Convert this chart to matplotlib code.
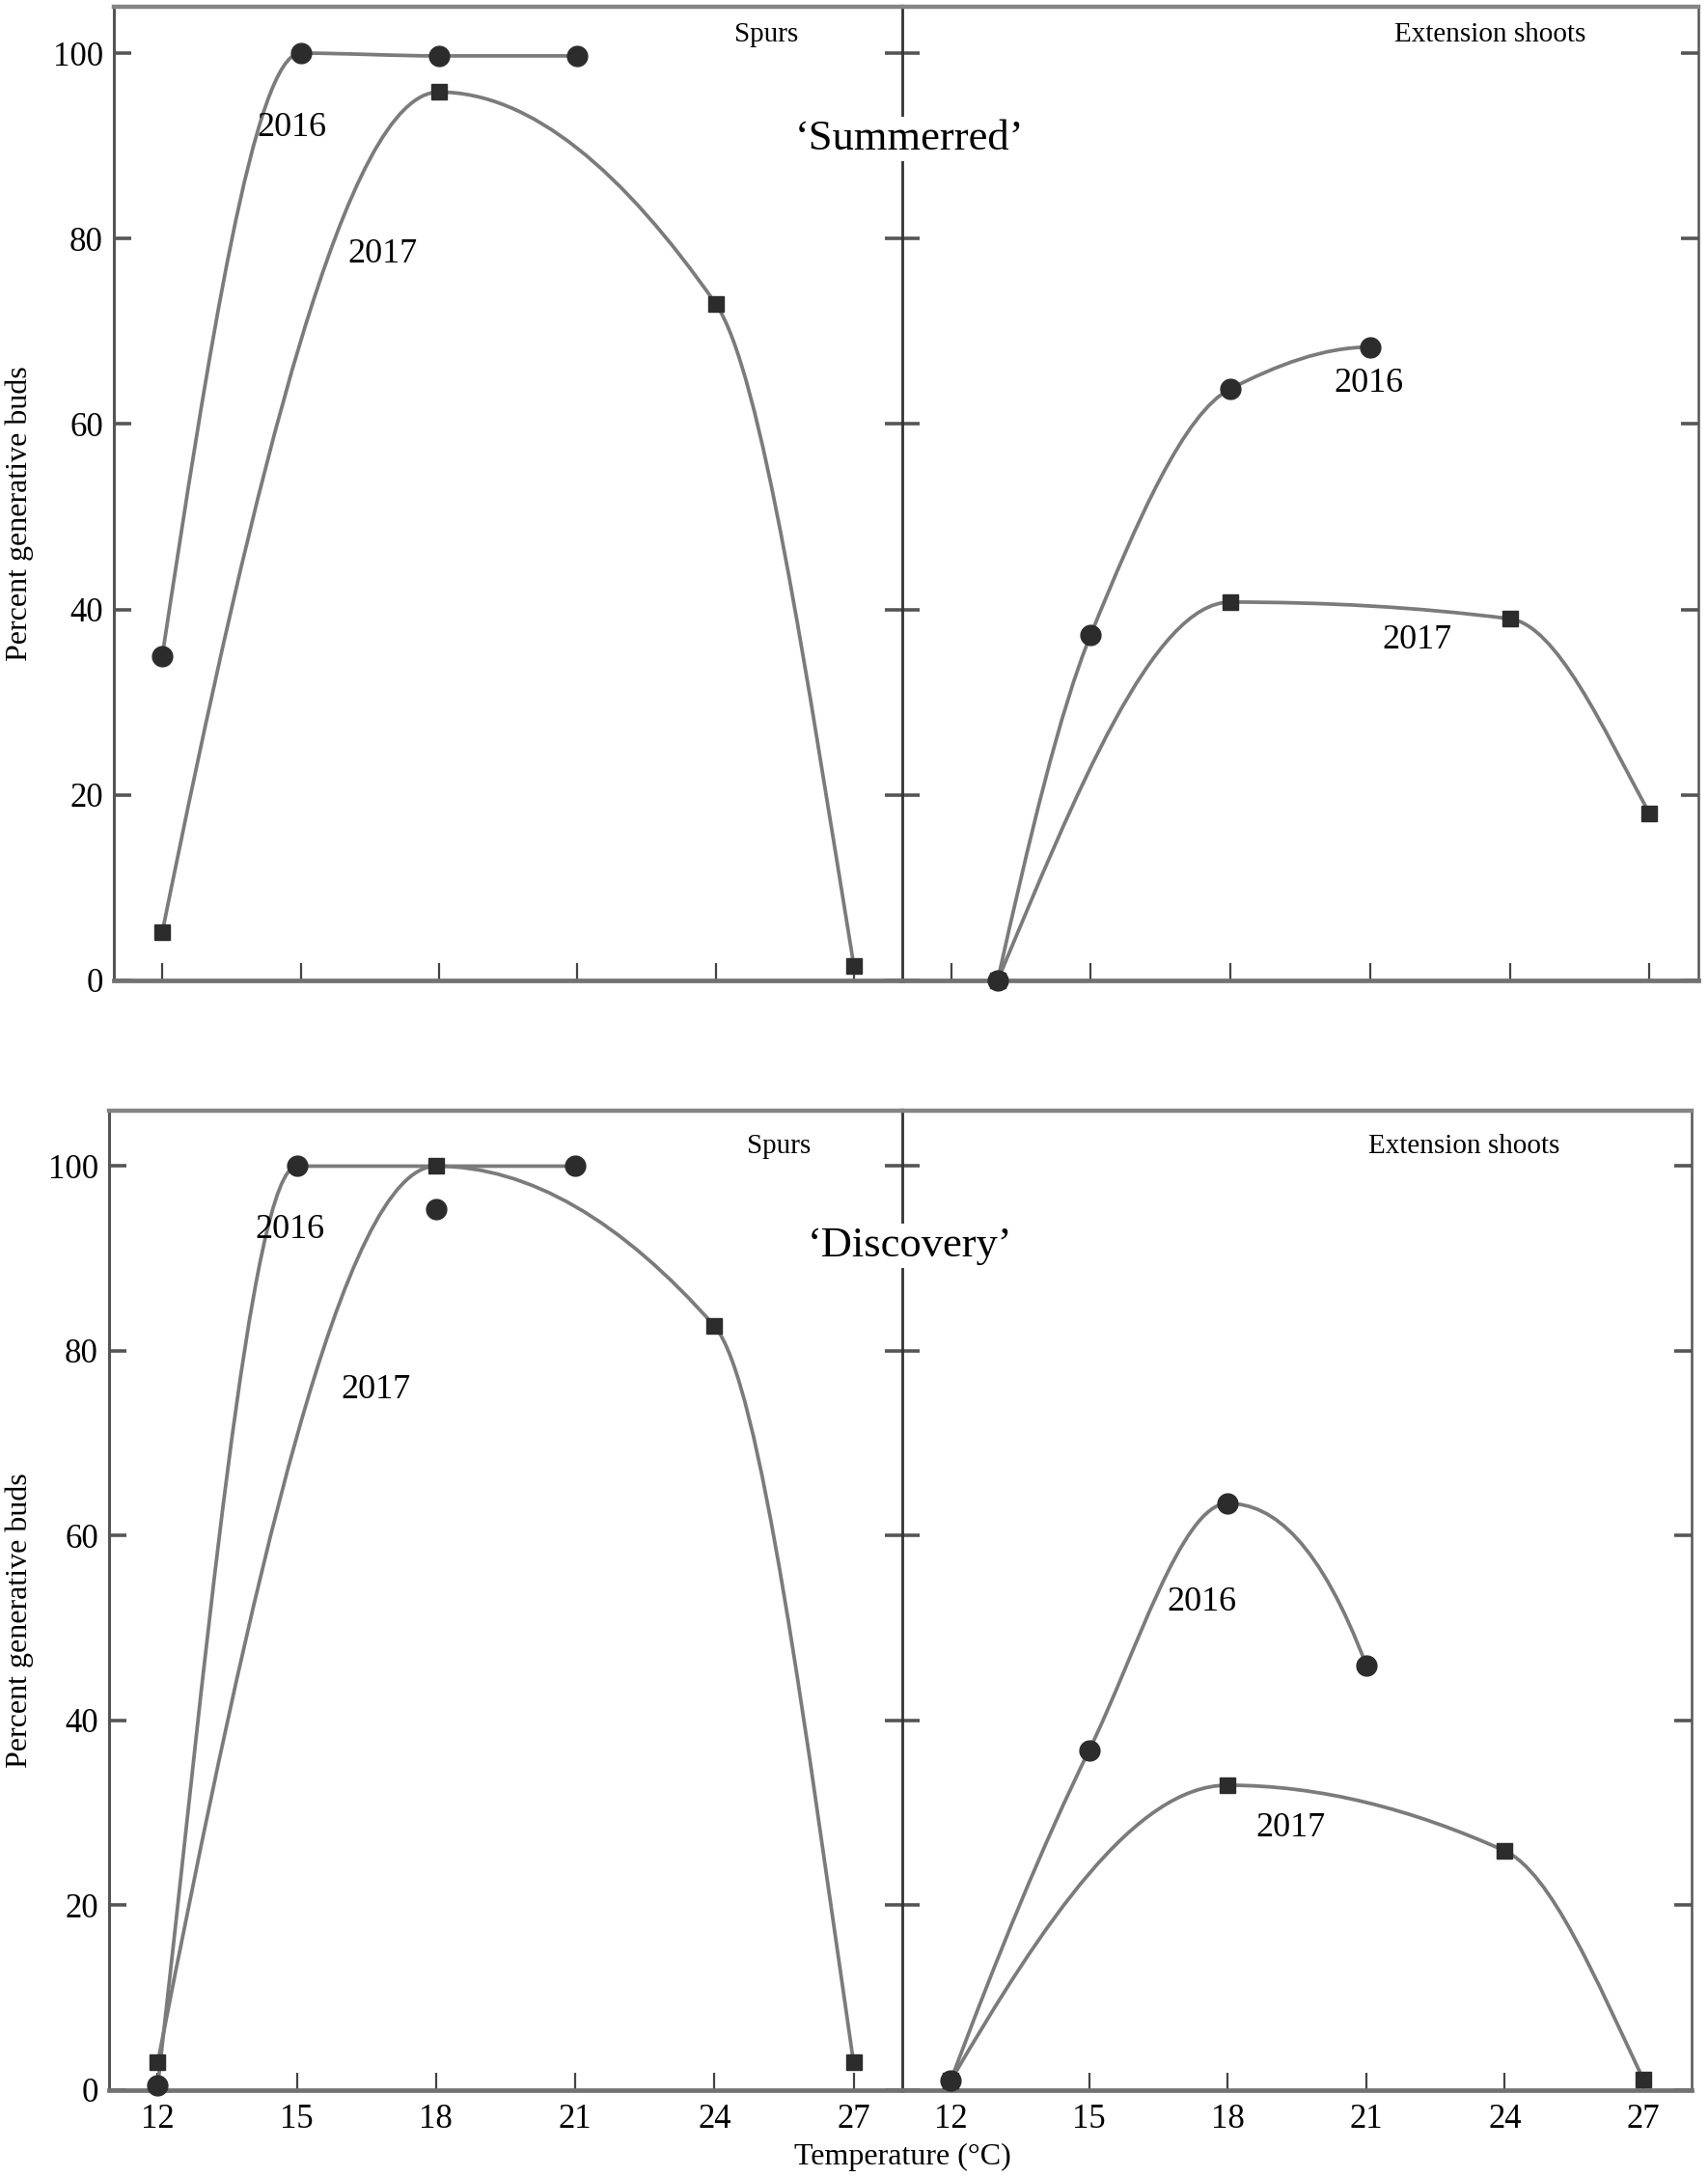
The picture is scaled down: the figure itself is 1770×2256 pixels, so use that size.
"""
Percent generative buds vs. temperature, 'Summerred' and 'Discovery',
spurs and extension shoots, 2016 and 2017 -- hand-drawn style curves.
"""

import numpy as np
import matplotlib.pyplot as plt
from matplotlib.path import Path
from matplotlib.patches import PathPatch

plt.rcParams['font.family'] = ['Liberation Serif', 'DejaVu Serif']

# ── data ─────────────────────────────────────────────────────────────────────
TEMPS = [12, 15, 18, 21, 24, 27]
Y_TICKS = [0, 20, 40, 60, 80, 100]

# 'Summerred'
SUM_SPUR_X16 = [12, 15, 18, 21]
SUM_SPUR_Y16 = [35, 100, 99.7, 99.7]
SUM_SPUR_X17 = [12, 18, 24, 27]
SUM_SPUR_Y17 = [5.2, 95.8, 73, 1.6]
SUM_EXT_X16 = [13, 15, 18, 21]
SUM_EXT_Y16 = [0, 37.3, 63.8, 68.3]
SUM_EXT_X17 = [13, 18, 24, 27]
SUM_EXT_Y17 = [0, 40.8, 39, 18]

# 'Discovery'
DIS_SPUR_X16 = [12, 15, 18, 21]
DIS_SPUR_Y16 = [0.5, 100, 95.4, 100]
DIS_SPUR_ON16 = [True, True, False, True]   # 18 °C point lies off the drawn curve
DIS_SPUR_X17 = [12, 18, 24, 27]
DIS_SPUR_Y17 = [3, 100, 82.7, 3]
DIS_EXT_X16 = [12, 15, 18, 21]
DIS_EXT_Y16 = [1, 36.8, 63.5, 46]
DIS_EXT_X17 = [12, 18, 24, 27]
DIS_EXT_Y17 = [1, 33, 25.9, 1.2]

LINE_C = '#7b7b7b'
MARK_C = '#2c2c2c'


# ── monotone cubic (PCHIP-like) curve rendered as Bezier path ────────────────
def slopes(x, y):
    x = np.asarray(x, float)
    y = np.asarray(y, float)
    h = np.diff(x)
    d = np.diff(y) / h
    n = len(x)
    m = np.zeros(n)
    if n == 2:
        m[:] = d[0]
        return m
    for k in range(1, n - 1):
        if d[k - 1] * d[k] > 0:
            w1 = 2 * h[k] + h[k - 1]
            w2 = h[k] + 2 * h[k - 1]
            m[k] = (w1 + w2) / (w1 / d[k - 1] + w2 / d[k])

    def end(h0, h1, d0, d1):
        s = ((2 * h0 + h1) * d0 - h0 * d1) / (h0 + h1)
        if np.sign(s) != np.sign(d0):
            s = 0.0
        elif np.sign(d0) != np.sign(d1) and abs(s) > abs(3 * d0):
            s = 3 * d0
        return s

    m[0] = end(h[0], h[1], d[0], d[1])
    m[-1] = end(h[-1], h[-2], d[-1], d[-2])
    return m


def curve(ax, x, y):
    x = list(map(float, x))
    y = list(map(float, y))
    m = slopes(x, y)
    verts = [(x[0], y[0])]
    codes = [Path.MOVETO]
    for k in range(len(x) - 1):
        h = x[k + 1] - x[k]
        verts += [(x[k] + h / 3, y[k] + m[k] * h / 3),
                  (x[k + 1] - h / 3, y[k + 1] - m[k + 1] * h / 3),
                  (x[k + 1], y[k + 1])]
        codes += [Path.CURVE4] * 3
    ax.add_patch(PathPatch(Path(verts, codes), facecolor='none',
                           edgecolor=LINE_C, lw=2.7, zorder=2,
                           capstyle='round'))


def marks(ax, x, y, kind):
    if kind == 'o':
        ax.plot(x, y, 'o', ms=15, color=MARK_C, clip_on=False, zorder=3)
    else:
        ax.plot(x, y, 's', ms=12, color=MARK_C, clip_on=False, zorder=3)


# ── figure ───────────────────────────────────────────────────────────────────
W, H = 1770, 2256
fig = plt.figure(figsize=(W / 100, H / 100), dpi=100)
fig.patch.set_facecolor('white')


def px_axes(left, top, right, bottom):
    return fig.add_axes([left / W, 1 - bottom / H, (right - left) / W,
                         (bottom - top) / H])


def style(ax, side, ytop, bottom_labels):
    ax.set_xlim(10.95, 28.05)
    ax.set_ylim(0, ytop)
    ax.set_xticks(TEMPS)
    ax.set_yticks(Y_TICKS)
    ax.spines['top'].set_linewidth(3.2)
    ax.spines['top'].set_color('#858585')
    ax.spines['bottom'].set_linewidth(3.4)
    ax.spines['bottom'].set_color('#727272')
    ax.tick_params(axis='x', direction='in', length=13, width=1.6,
                   color='#444444', labelsize=25, pad=10,
                   labelbottom=bottom_labels)
    if side == 'left':
        ax.spines['left'].set_linewidth(2.2)
        ax.spines['left'].set_color('#555555')
        ax.spines['right'].set_visible(False)
        ax.tick_params(axis='y', direction='in', length=13, width=2.6,
                       color='#555555', labelsize=25, pad=8,
                       left=True, right=True)
    else:
        ax.spines['left'].set_linewidth(2.0)
        ax.spines['left'].set_color('#333333')
        ax.spines['right'].set_linewidth(1.8)
        ax.spines['right'].set_color('#555555')
        ax.tick_params(axis='y', direction='in', length=13, width=2.6,
                       color='#555555', left=True, right=True,
                       labelleft=False)
    ax.set_facecolor('white')


def year(ax, x, y, s):
    ax.text(x, y, s, fontsize=26, ha='center', va='center', zorder=4)


# top row: 'Summerred'
a1 = px_axes(118, 7, 935, 1016)
a2 = px_axes(935, 7, 1760, 1016)
style(a1, 'left', 105, False)
style(a2, 'right', 105, False)

curve(a1, SUM_SPUR_X16, SUM_SPUR_Y16)
curve(a1, SUM_SPUR_X17, SUM_SPUR_Y17)
marks(a1, SUM_SPUR_X16, SUM_SPUR_Y16, 'o')
marks(a1, SUM_SPUR_X17, SUM_SPUR_Y17, 's')
year(a1, 14.82, 91.9, '2016')
year(a1, 16.77, 78.3, '2017')
a1.text(25.1, 102, 'Spurs', fontsize=21, ha='center', va='center')

curve(a2, SUM_EXT_X16, SUM_EXT_Y16)
curve(a2, SUM_EXT_X17, SUM_EXT_Y17)
marks(a2, SUM_EXT_X16, SUM_EXT_Y16, 'o')
marks(a2, SUM_EXT_X17, SUM_EXT_Y17, 's')
year(a2, 20.96, 64.4, '2016')
year(a2, 22.0, 36.7, '2017')
a2.text(23.57, 102, 'Extension shoots', fontsize=21, ha='center', va='center')

a1.set_ylabel('Percent generative buds', fontsize=23)
a1.yaxis.set_label_coords(-0.102, 0.48)

# bottom row: 'Discovery'
b1 = px_axes(113, 1151, 935, 2166)
b2 = px_axes(935, 1151, 1753, 2166)
style(b1, 'left', 106, True)
style(b2, 'right', 106, True)

on16 = np.array(DIS_SPUR_ON16)
curve(b1, np.array(DIS_SPUR_X16)[on16], np.array(DIS_SPUR_Y16)[on16])
curve(b1, DIS_SPUR_X17, DIS_SPUR_Y17)
marks(b1, DIS_SPUR_X16, DIS_SPUR_Y16, 'o')
marks(b1, DIS_SPUR_X17, DIS_SPUR_Y17, 's')
year(b1, 14.85, 93.1, '2016')
year(b1, 16.71, 75.8, '2017')
b1.text(25.4, 102.1, 'Spurs', fontsize=21, ha='center', va='center')

curve(b2, DIS_EXT_X16, DIS_EXT_Y16)
curve(b2, DIS_EXT_X17, DIS_EXT_Y17)
marks(b2, DIS_EXT_X16, DIS_EXT_Y16, 'o')
marks(b2, DIS_EXT_X17, DIS_EXT_Y17, 's')
year(b2, 17.45, 52.8, '2016')
year(b2, 19.37, 28.4, '2017')
b2.text(23.12, 102.1, 'Extension shoots', fontsize=21, ha='center', va='center')

b1.set_ylabel('Percent generative buds', fontsize=23)
b1.yaxis.set_label_coords(-0.095, 0.48)

# cultivar names (they break the divider line) and shared x label
name_box = dict(facecolor='white', edgecolor='none', pad=2)
fig.text(943 / W, 1 - 144 / H, '\u2018Summerred\u2019', fontsize=32,
         ha='center', va='center', bbox=name_box, zorder=10)
fig.text(943 / W, 1 - 1291 / H, '\u2018Discovery\u2019', fontsize=32,
         ha='center', va='center', bbox=name_box, zorder=10)
fig.text(935 / W, 1 - 2235 / H, 'Temperature (\u00b0C)', fontsize=23,
         ha='center', va='center')

fig.savefig('out.png', dpi=100, facecolor='white')
